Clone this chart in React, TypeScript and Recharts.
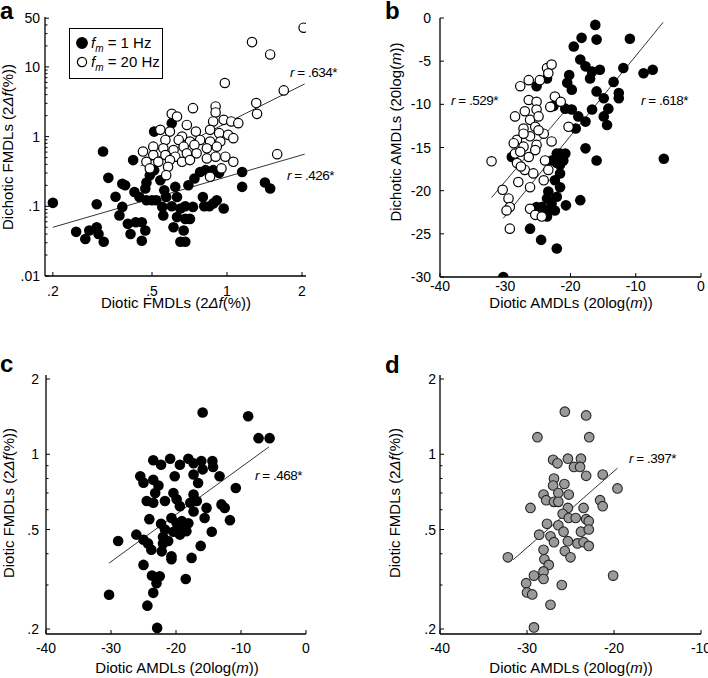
import React from 'react';
import { ScatterChart, Scatter, XAxis, YAxis, Legend } from 'recharts';

const FONT = '"Liberation Sans", Arial, sans-serif';

// ---------- Panel a: Diotic FMDLs vs Dichotic FMDLs ----------
const aFm1: [number, number][] = [
  [0.20, 0.112], [0.318, 0.61], [0.334, 0.256], [0.42, 0.46], [0.357, 0.137], [0.39, 0.20], [0.425, 0.16],
  [0.47, 0.18], [0.49, 0.28], [0.51, 0.33], [0.54, 0.237], [0.475, 0.122], [0.52, 0.122], [0.56, 0.17],
  [0.62, 0.19], [0.70, 0.20], [0.74, 0.25], [0.78, 0.31], [0.82, 0.33], [0.88, 0.33], [1.15, 0.31],
  [1.15, 0.19], [0.38, 0.098], [0.37, 0.074], [0.40, 0.056], [0.43, 0.059], [0.455, 0.059], [0.47, 0.045],
  [0.41, 0.040], [0.455, 0.032], [0.55, 0.098], [0.555, 0.074], [0.60, 0.10], [0.63, 0.136], [0.65, 0.093],
  [0.68, 0.10], [0.63, 0.07], [0.68, 0.066], [0.61, 0.05], [0.67, 0.045], [0.65, 0.031], [0.68, 0.031],
  [0.80, 0.136], [0.81, 0.10], [0.91, 0.122], [0.97, 0.093], [0.93, 0.30], [0.85, 0.10], [0.73, 0.098],
  [0.248, 0.043], [0.27, 0.034], [0.28, 0.045], [0.30, 0.05], [0.305, 0.040], [0.32, 0.031], [0.30, 0.107],
  [0.51, 1.18], [0.60, 1.56], [1.42, 0.22], [1.49, 0.18], [0.71, 0.066], [0.88, 0.11], [0.475, 0.22],
  [0.50, 0.122], [0.38, 0.21], [0.445, 0.136], [0.57, 0.136],
];
const aFm20: [number, number][] = [
  [2.03, 36.5], [1.26, 22.7], [1.49, 15.1], [0.98, 5.88], [1.69, 4.6], [1.31, 3.03], [1.32, 2.12], [1.59, 0.56],
  [0.73, 2.56], [0.90, 2.71], [0.90, 2.22], [0.60, 2.12], [0.63, 1.94], [0.88, 1.65], [0.97, 1.74], [1.04, 1.65],
  [1.11, 1.56], [0.54, 1.25], [0.59, 1.18], [0.69, 1.47], [0.75, 1.18], [0.855, 1.25], [0.93, 1.12], [1.01, 1.06],
  [0.66, 1.0], [0.566, 0.895], [0.64, 0.895], [0.71, 0.85], [0.78, 0.895], [0.855, 0.85], [0.94, 0.85],
  [0.506, 0.718], [0.555, 0.68], [0.61, 0.64], [0.67, 0.718], [0.74, 0.76], [0.83, 0.68], [0.91, 0.718],
  [0.46, 0.61], [0.506, 0.545], [0.566, 0.545], [0.62, 0.515], [0.69, 0.575], [0.755, 0.575], [0.83, 0.487],
  [0.90, 0.515], [0.985, 0.515], [0.475, 0.435], [0.53, 0.435], [0.59, 0.46], [0.66, 0.435], [0.71, 0.46],
  [1.06, 0.435], [0.49, 0.35], [0.58, 0.369], [0.95, 0.35], [0.57, 0.28], [0.855, 0.265], [1.06, 0.95],
];
const aFitFm1: [number, number][] = [[0.2, 0.05], [2.05, 0.56]];
const aFitFm20: [number, number][] = [[0.45, 0.38], [2.05, 5.7]];
const aXTicks = [0.2, 0.5, 1, 2];
const aYTicks = [0.01, 0.1, 1, 10, 50];
const aYMinor = [0.02, 0.03, 0.04, 0.05, 0.06, 0.07, 0.08, 0.09, 0.2, 0.3, 0.4, 0.5, 0.6, 0.7, 0.8, 0.9, 2, 3, 4, 5, 6, 7, 8, 9, 20, 30, 40];

// ---------- Panel b: Diotic AMDLs vs Dichotic AMDLs ----------
const bFm1: [number, number][] = [
  [-16.2, -0.8], [-18.3, -2.3], [-16.0, -2.5], [-10.9, -2.4], [-19.5, -3.3], [-18.5, -4.8], [-17.7, -5.6],
  [-16.7, -6.2], [-15.5, -6.0], [-11.9, -5.8], [-8.8, -6.4], [-7.4, -6.0], [-13.4, -7.4], [-17.0, -7.0],
  [-16.0, -8.5], [-14.9, -9.3], [-12.6, -8.7], [-12.6, -9.3], [-14.2, -10.5], [-16.7, -10.6], [-18.8, -11.4],
  [-17.7, -12.0], [-14.9, -11.4], [-14.4, -12.4], [-19.8, -10.6], [-20.8, -10.5], [-20.2, -6.6], [-20.5, -7.5],
  [-19.2, -12.8], [-17.7, -15.1], [-16.0, -16.5], [-5.7, -16.3], [-18.5, -21.1], [-26.2, -24.4], [-24.5, -25.7],
  [-22.1, -26.7], [-30.3, -30.0], [-25.2, -7.9], [-23.6, -7.0], [-29.0, -16.1], [-22.1, -15.7], [-20.8, -15.7],
  [-21.1, -16.5], [-22.1, -16.8], [-21.6, -18.0], [-22.4, -18.8], [-21.6, -19.6], [-23.4, -20.1], [-22.1, -20.7],
  [-22.9, -21.5], [-24.4, -21.9], [-23.4, -22.3], [-22.4, -22.3], [-23.6, -23.0], [-20.7, -21.7], [-22.9, -16.5],
  [-23.6, -20.9], [-25.2, -21.9], [-21.6, -15.7], [-21.6, -17.0], [-22.6, -10.2], [-19.8, -8.3],
];
const bFm20: [number, number][] = [
  [-32.1, -16.6], [-30.4, -19.9], [-29.5, -20.9], [-29.3, -21.9], [-29.8, -22.3], [-29.3, -24.4], [-27.7, -7.9],
  [-26.4, -7.2], [-24.7, -7.2], [-23.6, -5.8], [-22.9, -5.4], [-23.4, -6.4], [-22.4, -9.1], [-21.5, -9.7],
  [-26.4, -9.5], [-25.2, -9.7], [-23.1, -10.3], [-27.0, -10.8], [-25.2, -10.6], [-28.5, -11.4], [-26.2, -11.8],
  [-24.9, -11.4], [-27.2, -12.8], [-25.4, -12.6], [-20.3, -12.6], [-28.2, -14.1], [-26.2, -13.7], [-24.1, -13.4],
  [-22.9, -14.3], [-27.2, -14.9], [-25.2, -14.7], [-28.7, -14.5], [-28.5, -15.7], [-27.7, -15.5], [-25.4, -15.3],
  [-28.2, -16.8], [-26.4, -16.1], [-23.9, -16.5], [-27.0, -17.6], [-25.7, -18.0], [-23.4, -17.6], [-28.0, -19.0],
  [-24.1, -18.8], [-26.2, -19.6], [-24.9, -13.0], [-27.2, -13.4], [-26.2, -22.1], [-25.4, -22.8], [-24.4, -23.0],
  [-27.6, -17.2],
];
const bFitFm1: [number, number][] = [[-30.3, -23.2], [-5.8, -0.5]];
const bFitFm20: [number, number][] = [[-32.1, -20.8], [-20.0, -10.0]];
const bXTicks = [-40, -30, -20, -10, 0];
const bYTicks = [-30, -25, -20, -15, -10, -5, 0];

// ---------- Panel c: Diotic AMDLs (1 Hz) vs Diotic FMDLs ----------
const cFm1: [number, number][] = [
  [-15.9, 1.47], [-8.9, 1.42], [-7.3, 1.16], [-5.6, 1.16], [-23.5, 0.946], [-22.3, 0.908], [-20.9, 0.96],
  [-19.4, 0.908], [-18.1, 0.96], [-17.3, 0.92], [-16.1, 0.94], [-14.4, 0.94], [-14.3, 0.89], [-15.9, 0.87],
  [-13.3, 0.817], [-17.3, 0.83], [-16.6, 0.767], [-20.2, 0.817], [-25.5, 0.817], [-25.0, 0.77], [-23.5, 0.79],
  [-22.7, 0.75], [-10.8, 0.733], [-23.2, 0.70], [-24.5, 0.65], [-23.5, 0.64], [-21.7, 0.65], [-20.4, 0.70],
  [-19.9, 0.66], [-17.3, 0.69], [-17.8, 0.64], [-16.8, 0.65], [-15.3, 0.61], [-13.0, 0.63], [-12.5, 0.61],
  [-19.4, 0.62], [-17.3, 0.59], [-15.6, 0.556], [-11.7, 0.545], [-24.1, 0.55], [-22.3, 0.527], [-20.7, 0.556],
  [-19.9, 0.53], [-19.1, 0.54], [-18.1, 0.53], [-19.4, 0.507], [-18.4, 0.492], [-21.7, 0.50], [-20.4, 0.49],
  [-19.4, 0.477], [-22.0, 0.467], [-14.5, 0.49], [-26.1, 0.477], [-25.0, 0.455], [-24.3, 0.44], [-23.8, 0.415],
  [-28.9, 0.45], [-22.0, 0.44], [-21.2, 0.45], [-22.2, 0.409], [-20.7, 0.391], [-20.7, 0.38], [-16.2, 0.43],
  [-17.6, 0.385], [-25.0, 0.361], [-23.7, 0.327], [-22.5, 0.325], [-23.0, 0.305], [-23.5, 0.279], [-18.5, 0.317],
  [-30.3, 0.274], [-24.4, 0.248], [-22.9, 0.202],
];
const cFit: [number, number][] = [[-30.3, 0.367], [-5.7, 1.07]];
const cXTicks = [-40, -30, -20, -10, 0];

// ---------- Panel d: Diotic AMDLs (20 Hz) vs Diotic FMDLs ----------
const dFm20: [number, number][] = [
  [-25.65, 1.48], [-23.2, 1.43], [-28.8, 1.17], [-22.85, 1.17], [-27.0, 0.95], [-26.5, 0.92], [-25.3, 0.96],
  [-23.8, 0.96], [-24.6, 0.89], [-23.9, 0.89], [-21.3, 0.83], [-23.2, 0.82], [-26.9, 0.80], [-25.7, 0.76],
  [-27.0, 0.75], [-19.6, 0.73], [-26.4, 0.70], [-25.2, 0.69], [-28.1, 0.69], [-27.8, 0.655], [-26.9, 0.645],
  [-26.4, 0.645], [-29.6, 0.61], [-25.3, 0.61], [-23.5, 0.61], [-21.6, 0.655], [-21.3, 0.62], [-25.9, 0.578],
  [-25.2, 0.556], [-24.4, 0.556], [-23.2, 0.55], [-22.9, 0.54], [-27.7, 0.527], [-26.4, 0.52], [-28.6, 0.477],
  [-27.3, 0.47], [-25.8, 0.49], [-25.3, 0.449], [-26.9, 0.445], [-23.8, 0.49], [-22.9, 0.50], [-24.2, 0.44],
  [-23.5, 0.445], [-22.9, 0.43], [-28.1, 0.415], [-25.65, 0.41], [-25.0, 0.387], [-28.0, 0.38], [-32.2, 0.387],
  [-27.5, 0.361], [-28.1, 0.34], [-29.2, 0.327], [-28.1, 0.317], [-20.1, 0.327], [-30.1, 0.305], [-26.0, 0.30],
  [-30.0, 0.28], [-29.4, 0.275], [-27.3, 0.25], [-29.2, 0.203],
];
const dFit: [number, number][] = [[-31.6, 0.378], [-19.6, 0.88]];
const dXTicks = [-40, -30, -20, -10];

const cdYTicks = [0.2, 0.5, 1, 2];
const cdYMinor = [0.3, 0.4, 0.6, 0.7, 0.8, 0.9];

// ---------- helpers ----------
const toXY = (arr: [number, number][]) => arr.map(([x, y]) => ({ x, y }));
const fmt = (v: number) => {
  const s = String(v);
  return s.startsWith('0.') ? s.slice(1) : s;
};
const isIn = (list: number[], v: number) => list.some((l) => Math.abs(l - v) < 1e-9);

const makeYTick = (labeled: number[], margin: number) => (props: any) => {
  const { x, y, payload } = props;
  const v = payload.value;
  const major = isIn(labeled, v);
  const ax = x + margin;
  return (
    <g>
      <line x1={ax} x2={ax + (major ? 4 : 2.5)} y1={y} y2={y} stroke="#000" strokeWidth={1} />
      {major && (
        <text x={x} y={y} dy="0.36em" textAnchor="end" fontSize={14} fontFamily={FONT} fill="#000">
          {fmt(v)}
        </text>
      )}
    </g>
  );
};

const makeXTick = (margin: number) => (props: any) => {
  const { x, y, payload } = props;
  const ay = y - margin;
  return (
    <g>
      <line x1={x} x2={x} y1={ay} y2={ay - 4} stroke="#000" strokeWidth={1} />
      <text x={x} y={y} dy="0.72em" textAnchor="middle" fontSize={14} fontFamily={FONT} fill="#000">
        {fmt(payload.value)}
      </text>
    </g>
  );
};

const blackDot = (p: any) => <circle cx={p.cx} cy={p.cy} r={5.3} fill="#000" />;
const whiteDot = (p: any) => <circle cx={p.cx} cy={p.cy} r={4.7} fill="#fff" stroke="#000" strokeWidth={1.2} />;
const grayDot = (p: any) => <circle cx={p.cx} cy={p.cy} r={4.8} fill="#9a9a9a" stroke="#262626" strokeWidth={1.1} />;
const noDot = () => <g />;

const axisLine = { stroke: '#000', strokeWidth: 1.3 };
const fitLine = { stroke: '#000', strokeWidth: 0.8 };

const LegendBox = () => (
  <div
    style={{
      position: 'relative',
      boxSizing: 'border-box',
      width: 94,
      height: 51,
      border: '1.5px solid #000',
      background: '#fff',
      fontFamily: FONT,
      fontSize: 15,
      color: '#000',
    }}
  >
    {[
      { fill: '#000', label: '1 Hz', top: 14 },
      { fill: '#fff', label: '20 Hz', top: 33 },
    ].map((row) => (
      <div key={row.label} style={{ position: 'absolute', left: 6, top: row.top - 9, height: 18, whiteSpace: 'nowrap', lineHeight: '18px' }}>
        <svg width={12} height={12} style={{ position: 'absolute', left: 0, top: 3 }}>
          <circle cx={6} cy={6} r={row.fill === '#000' ? 5.3 : 4.6} fill={row.fill} stroke="#000" strokeWidth={1.2} />
        </svg>
        <span style={{ position: 'absolute', left: 15, top: 0 }}>
          <i>f</i>
          <i style={{ fontSize: 10, verticalAlign: -4 }}>m</i>
          <span>{' = ' + row.label}</span>
        </span>
      </div>
    ))}
  </div>
);

const PanelA = () => (
  <ScatterChart width={354} height={330} margin={{ top: 17, right: 48, bottom: 24, left: 0 }}>
    <XAxis type="number" dataKey="x" scale="log" domain={[0.186, 2.075]} allowDataOverflow ticks={aXTicks} interval={0}
      tickSize={0} tickMargin={10} tickLine={false} axisLine={axisLine} tick={makeXTick(10)} height={30} />
    <YAxis type="number" dataKey="y" scale="log" domain={[0.01, 52]} allowDataOverflow ticks={[...aYTicks, ...aYMinor]} interval={0}
      tickSize={0} tickMargin={5} tickLine={false} axisLine={axisLine} tick={makeYTick(aYTicks, 5)} width={45} />
    <Legend layout="vertical" align="center" verticalAlign="middle" content={() => <LegendBox />}
      wrapperStyle={{ left: 69, top: 28, width: 94, height: 51 }} />
    <Scatter name="fit1" data={toXY(aFitFm1)} line={fitLine} shape={noDot} isAnimationActive={false} legendType="none" />
    <Scatter name="fit20" data={toXY(aFitFm20)} line={fitLine} shape={noDot} isAnimationActive={false} legendType="none" />
    <Scatter name="fm = 1 Hz" data={toXY(aFm1)} shape={blackDot} isAnimationActive={false} />
    <Scatter name="fm = 20 Hz" data={toXY(aFm20)} shape={whiteDot} isAnimationActive={false} />
  </ScatterChart>
);

const PanelB = () => (
  <ScatterChart width={354} height={330} margin={{ top: 18, right: 7, bottom: 23, left: 0 }}>
    <XAxis type="number" dataKey="x" domain={[-40, 0]} allowDataOverflow ticks={bXTicks} interval={0}
      tickSize={0} tickMargin={4} tickLine={false} axisLine={axisLine} tick={makeXTick(4)} height={30} />
    <YAxis type="number" dataKey="y" domain={[-30, 0]} allowDataOverflow ticks={bYTicks} interval={0}
      tickSize={0} tickMargin={9} tickLine={false} axisLine={axisLine} tick={makeYTick(bYTicks, 9)} width={86} />
    <Scatter name="fit1" data={toXY(bFitFm1)} line={fitLine} shape={noDot} isAnimationActive={false} />
    <Scatter name="fit20" data={toXY(bFitFm20)} line={fitLine} shape={noDot} isAnimationActive={false} />
    <Scatter name="fm = 1 Hz" data={toXY(bFm1)} shape={blackDot} isAnimationActive={false} />
    <Scatter name="fm = 20 Hz" data={toXY(bFm20)} shape={whiteDot} isAnimationActive={false} />
  </ScatterChart>
);

const PanelC = () => (
  <ScatterChart width={354} height={348} margin={{ top: 45, right: 48, bottom: 14, left: 0 }}>
    <XAxis type="number" dataKey="x" domain={[-40, 0]} allowDataOverflow ticks={cXTicks} interval={0}
      tickSize={0} tickMargin={9} tickLine={false} axisLine={axisLine} tick={makeXTick(9)} height={30} />
    <YAxis type="number" dataKey="y" scale="log" domain={[0.191, 2.075]} allowDataOverflow ticks={[...cdYTicks, ...cdYMinor]} interval={0}
      tickSize={0} tickMargin={7} tickLine={false} axisLine={axisLine} tick={makeYTick(cdYTicks, 7)} width={46} />
    <Scatter name="fit" data={toXY(cFit)} line={fitLine} shape={noDot} isAnimationActive={false} />
    <Scatter name="fm = 1 Hz" data={toXY(cFm1)} shape={blackDot} isAnimationActive={false} />
  </ScatterChart>
);

const PanelD = () => (
  <ScatterChart width={354} height={348} margin={{ top: 45, right: 7, bottom: 14, left: 0 }}>
    <XAxis type="number" dataKey="x" domain={[-40, -10]} allowDataOverflow ticks={dXTicks} interval={0}
      tickSize={0} tickMargin={9} tickLine={false} axisLine={axisLine} tick={makeXTick(9)} height={30} />
    <YAxis type="number" dataKey="y" scale="log" domain={[0.191, 2.075]} allowDataOverflow ticks={[...cdYTicks, ...cdYMinor]} interval={0}
      tickSize={0} tickMargin={4} tickLine={false} axisLine={axisLine} tick={makeYTick(cdYTicks, 4)} width={86} />
    <Scatter name="fit" data={toXY(dFit)} line={fitLine} shape={noDot} isAnimationActive={false} />
    <Scatter name="fm = 20 Hz" data={toXY(dFm20)} shape={grayDot} isAnimationActive={false} />
  </ScatterChart>
);

const T = (p: { x: number; y: number; rot?: boolean; size?: number; bold?: boolean; children: React.ReactNode; anchor?: string; ls?: number }) => (
  <text
    x={p.rot ? 0 : p.x}
    y={p.rot ? 0 : p.y}
    transform={p.rot ? `translate(${p.x},${p.y}) rotate(-90)` : undefined}
    textAnchor={p.anchor || 'middle'}
    dy={p.rot ? '0.36em' : undefined}
    fontSize={p.size || 15}
    fontWeight={p.bold ? 'bold' : 'normal'}
    fontFamily={FONT}
    letterSpacing={p.ls}
    fill="#000"
  >
    {p.children}
  </text>
);

const FmTitle = (prefix: string) => (
  <>
    {prefix} FMDLs (2<tspan fontStyle="italic">Δf</tspan>(%))
  </>
);
const AmTitle = (prefix: string) => (
  <>
    {prefix} AMDLs (20log(<tspan fontStyle="italic">m</tspan>))
  </>
);
const RLab = (v: string) => (
  <>
    <tspan fontStyle="italic">r</tspan> = {v}*
  </>
);

export default function App() {
  return (
    <div style={{ position: 'absolute', left: 0, top: 0, width: 708, height: 678, background: '#fff', overflow: 'hidden' }}>
      <div style={{ position: 'absolute', left: 0, top: 0 }}><PanelA /></div>
      <div style={{ position: 'absolute', left: 354, top: 0 }}><PanelB /></div>
      <div style={{ position: 'absolute', left: 0, top: 330 }}><PanelC /></div>
      <div style={{ position: 'absolute', left: 354, top: 330 }}><PanelD /></div>
      <svg width={708} height={678} style={{ position: 'absolute', left: 0, top: 0, pointerEvents: 'none' }}>
        <T x={0} y={19} size={24} bold anchor="start">a</T>
        <T x={385} y={19} size={24} bold anchor="start">b</T>
        <T x={0} y={372} size={24} bold anchor="start">c</T>
        <T x={385} y={373} size={24} bold anchor="start">d</T>

        <T x={176} y={308}>{FmTitle('Diotic')}</T>
        <T x={8} y={147} rot>{FmTitle('Dichotic')}</T>
        <T x={571} y={308}>{AmTitle('Diotic')}</T>
        <T x={396} y={132} rot>{AmTitle('Dichotic')}</T>
        <T x={177} y={673}>{AmTitle('Diotic')}</T>
        <T x={9} y={503} rot>{FmTitle('Diotic')}</T>
        <T x={571} y={673}>{AmTitle('Diotic')}</T>
        <T x={395} y={503} rot>{FmTitle('Diotic')}</T>

        <T x={290} y={77} size={13.5} anchor="start" ls={-0.5}>{RLab('.634')}</T>
        <T x={287} y={180} size={13.5} anchor="start" ls={-0.5}>{RLab('.426')}</T>
        <T x={451} y={105} size={13.5} anchor="start" ls={-0.5}>{RLab('.529')}</T>
        <T x={641} y={105} size={13.5} anchor="start" ls={-0.5}>{RLab('.618')}</T>
        <T x={255} y={480} size={13.5} anchor="start" ls={-0.5}>{RLab('.468')}</T>
        <T x={629} y={463} size={13.5} anchor="start" ls={-0.5}>{RLab('.397')}</T>
      </svg>
    </div>
  );
}
